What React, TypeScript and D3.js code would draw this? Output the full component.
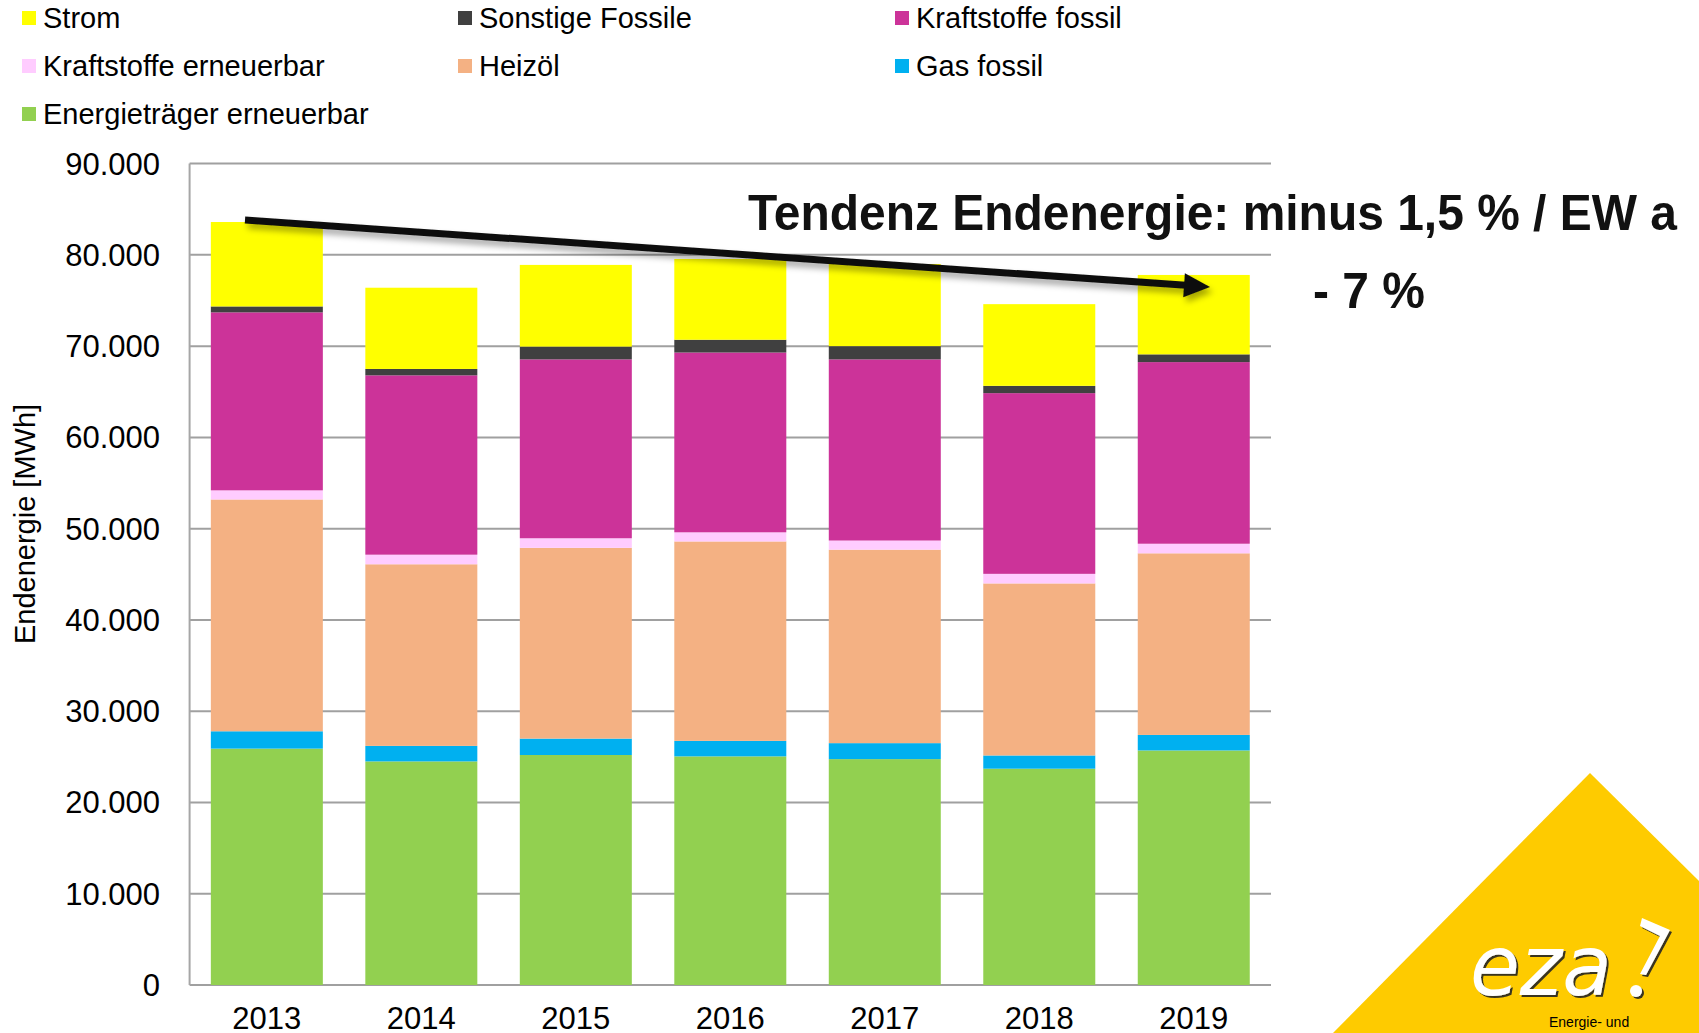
import React from "react";
import * as d3 from "d3";

const years = ["2013", "2014", "2015", "2016", "2017", "2018", "2019"];
const energietraegerErneuerbar = [25900, 24500, 25200, 25050, 24750, 23700, 25700];
const gasFossil = [1900, 1700, 1800, 1700, 1750, 1450, 1700];
const heizoel = [25400, 19900, 20900, 21850, 21200, 18850, 19900];
const kraftstoffeErneuerbar = [1000, 1050, 1050, 1000, 1000, 1050, 1050];
const kraftstoffeFossil = [19500, 19650, 19600, 19700, 19850, 19800, 19900];
const sonstigeFossile = [650, 700, 1400, 1400, 1450, 800, 850];
const strom = [9250, 8900, 8950, 8850, 9000, 8950, 8700];

const seriesNames = [
  "Energieträger erneuerbar",
  "Gas fossil",
  "Heizöl",
  "Kraftstoffe erneuerbar",
  "Kraftstoffe fossil",
  "Sonstige Fossile",
  "Strom",
];
const seriesValues = [
  energietraegerErneuerbar,
  gasFossil,
  heizoel,
  kraftstoffeErneuerbar,
  kraftstoffeFossil,
  sonstigeFossile,
  strom,
];
const seriesColors = ["#92D050", "#00B0F0", "#F4B183", "#FFCCFF", "#CC3399", "#404040", "#FFFF00"];

const legendOrder = [
  "Strom",
  "Sonstige Fossile",
  "Kraftstoffe fossil",
  "Kraftstoffe erneuerbar",
  "Heizöl",
  "Gas fossil",
  "Energieträger erneuerbar",
];
const yTicks = [0, 10000, 20000, 30000, 40000, 50000, 60000, 70000, 80000, 90000];

const W = 1699;
const H = 1033;
const FONT = "'Liberation Sans', Arial, Helvetica, sans-serif";

const deLocale = d3.formatLocale({ decimal: ",", thousands: ".", grouping: [3], currency: ["", "€"] });
const fmt = deLocale.format(",.0f");

export default function App() {
  const left = 189.6;
  const right = 1271;
  const top = 163.6;
  const bottom = 985;

  const x = d3.scaleBand<string>().domain(years).range([left, right]).paddingInner(0.275).paddingOuter(0.1375);
  const y = d3.scaleLinear().domain([0, 90000]).range([bottom, top]);

  const table = years.map((yr, i) => {
    const row: Record<string, number | string> = { year: yr };
    seriesNames.forEach((n, k) => (row[n] = seriesValues[k][i]));
    return row;
  });
  const stacked = d3.stack<any>().keys(seriesNames)(table as any);
  const colorOf = (n: string) => seriesColors[seriesNames.indexOf(n)];

  // arrow
  const ax0 = 245, ay0 = 220, ax1 = 1210, ay1 = 287;
  const ang = Math.atan2(ay1 - ay0, ax1 - ax0);
  const headLen = 26, headHalf = 12;
  const bx = ax1 - headLen * Math.cos(ang);
  const by = ay1 - headLen * Math.sin(ang);
  const px = -Math.sin(ang), py = Math.cos(ang);
  const head = [
    [ax1, ay1],
    [bx + px * headHalf, by + py * headHalf],
    [bx - px * headHalf, by - py * headHalf],
  ];

  return (
    <svg
      width={W}
      height={H}
      viewBox={`0 0 ${W} ${H}`}
      style={{ position: "absolute", left: 0, top: 0, display: "block", background: "#fff" }}
    >
      <defs>
        <filter id="shadow" x="-5%" y="-50%" width="110%" height="300%">
          <feDropShadow dx="3" dy="5" stdDeviation="3" floodColor="#000" floodOpacity="0.35" />
        </filter>
        <filter id="logoShadow" x="-10%" y="-10%" width="130%" height="130%">
          <feDropShadow dx="2" dy="2" stdDeviation="0.6" floodColor="#222" floodOpacity="0.9" />
        </filter>
      </defs>
      <rect x={0} y={0} width={W} height={H} fill="#fff" />

      {/* legend */}
      {legendOrder.map((name, i) => {
        const col = i % 3;
        const row = Math.floor(i / 3);
        const lx = [22, 458, 895][col];
        const ly = 18 + row * 48;
        return (
          <g key={name}>
            <rect x={lx} y={ly - 7} width={14} height={14} fill={colorOf(name)} />
            <text x={lx + 21} y={ly + 10} fontFamily={FONT} fontSize={29} fill="#000">
              {name}
            </text>
          </g>
        );
      })}

      {/* gridlines */}
      {yTicks.map((t) => (
        <line key={t} x1={left} x2={right} y1={y(t)} y2={y(t)} stroke="#A0A0A0" strokeWidth={2} />
      ))}
      <line x1={left} x2={left} y1={top} y2={bottom} stroke="#A6A6A6" strokeWidth={2} />

      {/* bars */}
      {stacked.map((layer) => (
        <g key={layer.key} fill={colorOf(layer.key)}>
          {layer.map((d, i) => (
            <rect
              key={years[i]}
              x={x(years[i])}
              width={x.bandwidth()}
              y={y(d[1])}
              height={y(d[0]) - y(d[1])}
            />
          ))}
        </g>
      ))}

      {/* y tick labels */}
      {yTicks.map((t) => (
        <text key={t} x={160} y={y(t) + 11} textAnchor="end" fontFamily={FONT} fontSize={31} fill="#000">
          {fmt(t)}
        </text>
      ))}

      {/* x labels */}
      {years.map((yr) => (
        <text
          key={yr}
          x={(x(yr) as number) + x.bandwidth() / 2}
          y={1029}
          textAnchor="middle"
          fontFamily={FONT}
          fontSize={31}
          fill="#000"
        >
          {yr}
        </text>
      ))}

      {/* y title */}
      <text
        transform={`translate(35, 524) rotate(-90)`}
        textAnchor="middle"
        fontFamily={FONT}
        fontSize={29}
        fill="#000"
      >
        Endenergie [MWh]
      </text>

      {/* arrow */}
      <g filter="url(#shadow)">
        <line x1={ax0} y1={ay0} x2={bx + 2 * Math.cos(ang)} y2={by + 2 * Math.sin(ang)} stroke="#111" strokeWidth={7} />
        <polygon points={head.map((p) => p.join(",")).join(" ")} fill="#111" />
      </g>

      {/* annotation */}
      <text
        x={748}
        y={230}
        fontFamily="'Liberation Sans Narrow', 'Liberation Sans', Arial, sans-serif"
        fontWeight="bold"
        fontSize={50}
        textLength={929}
        lengthAdjust="spacingAndGlyphs"
        fill="#111"
      >
        Tendenz Endenergie: minus 1,5 % / EW a
      </text>
      <text
        x={1313}
        y={308}
        fontFamily="'Liberation Sans Narrow', 'Liberation Sans', Arial, sans-serif"
        fontWeight="bold"
        fontSize={50}
        textLength={112}
        lengthAdjust="spacingAndGlyphs"
        fill="#111"
      >
        - 7 %
      </text>

      {/* logo */}
      <polygon points={`1333,${H} 1590,773 1699,881 1699,${H}`} fill="#FECB00" />
      <g filter="url(#logoShadow)">
        <text
          x={1470}
          y={995}
          fontFamily="'DejaVu Sans', sans-serif"
          fontStyle="italic"
          fontSize={84}
          textLength={142}
          lengthAdjust="spacingAndGlyphs"
          fill="#fff"
        >
          eza
        </text>
        <path d="M1642,918 L1670,930 L1646,975 L1640,974 L1660,936 L1640,926 Z" fill="#fff" />
        <circle cx={1636} cy={991} r={6} fill="#fff" />
      </g>
      <text x={1549} y={1027} fontFamily={FONT} fontSize={14} fill="#000">
        Energie- und
      </text>
    </svg>
  );
}
